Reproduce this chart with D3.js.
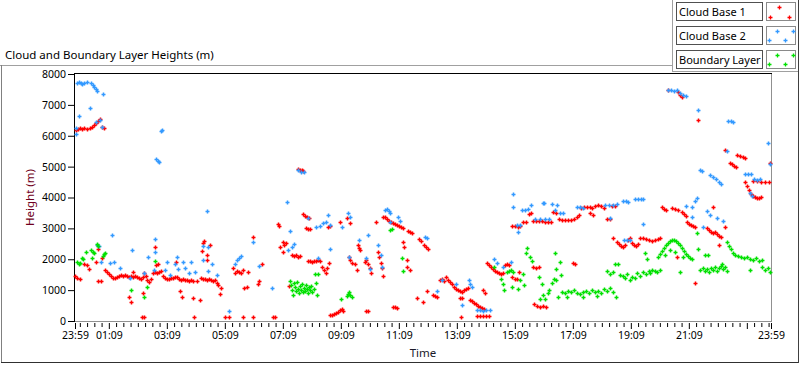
<!DOCTYPE html>
<html>
<head>
<meta charset="utf-8">
<script src="https://cdn.jsdelivr.net/npm/d3@7"></script>
<style>
  body { margin: 0; background: #fff; }
  svg { display: block; font-family: "Noto Sans", sans-serif; }
</style>
</head>
<body>
<svg width="800" height="365"></svg>
<script>
// time is hours after 23:59 of the previous day, height in metres
var cloudBase1 = [
  [0.03,6190],[0.10,6220],[0.17,6250],[0.24,6220],[0.31,6250],[0.41,6220],[0.52,6250],[0.59,6285],[0.66,6350],
  [0.72,6415],[0.79,6480],[0.86,6545],[0.93,6285],[1.0,6250],
  [0,1460],[0.07,1390],[0.17,1360],[0.31,1850],[0.41,1815],[0.48,1685],[0.72,1910],[0.79,1300],[0.90,1300],
  [0.93,2040],[0.79,2330],
  [1.03,1650],[1.10,1590],[1.17,1520],[1.24,1460],[1.31,1390],[1.38,1390],[1.45,1425],[1.52,1460],[1.59,1490],
  [1.66,1460],[1.72,1490],[1.79,1460],[1.86,1425],[1.93,1460],[2.0,1425],[2.07,1460],[2.14,1425],[2.21,1390],
  [2.28,1360],[2.34,1425],[2.38,1555],[2.45,1460],[2.48,1330],[2.55,1265],[2.62,1360],[2.69,1555],[2.76,1590],
  [2.83,1555],[2.90,1590],[2.97,1620],[3.03,1460],[3.10,1390],[3.17,1360],[3.24,1360],[3.31,1390],[3.38,1390],
  [3.45,1425],[3.52,1425],[3.59,1360],[3.66,1330],[3.72,1360],[3.79,1330],[3.86,1330],[3.93,1300],[4.0,1330],
  [4.07,1300],[4.21,1300],[4.34,1390],[4.41,1360],[4.48,1360],[4.55,1330],[4.62,1360],[4.69,1330],[4.76,1300],
  [4.83,1330],[4.90,1230],[4.93,1165],
  [1.86,780],[1.93,615],[2.0,1590],[2.31,130],[2.38,130],[2.34,905],[2.76,2400],[2.79,1815],[2.86,1850],
  [3.48,1910],[3.62,970],[3.69,780],[4.07,745],[4.10,130],[4.31,680],[4.38,2270],[4.41,2530],[4.45,2590],
  [4.55,2140],[4.55,1975],[4.66,2460],[5.0,875],[5.03,1070],[5.17,130],[5.31,130],[5.45,1715],[5.52,1555],
  [5.59,1620],[5.66,1590],[5.72,1555],[5.79,1650],[5.79,130],[5.83,1070],[5.93,1100],[5.97,1590],[6.14,2720],
  [6.14,130],[6.31,1200],[6.34,1300],[6.45,1850],[6.83,130],[6.90,130],[7.07,2400],[7.0,3140],[7.03,3080],
  [7.17,2560],[7.21,2460],[7.28,2530],[7.17,2235],[7.38,1135],[7.48,2140],[7.55,2105],[7.62,2140],[7.69,2075],
  [7.76,2105],
  [7.69,4925],[7.76,4890],[7.83,4890],[7.86,4860],[7.86,3470],[7.93,3400],[8.0,3370],[8.07,3340],
  [7.97,3010],[8.03,2980],[8.10,2980],
  [8.03,1945],[8.10,1945],[8.17,1910],[8.24,1945],[8.31,1945],[8.38,1975],[8.45,1945],[8.52,1750],[8.59,1650],
  [8.66,1555],[8.69,1715],[8.76,1880],[8.72,3045],[8.79,3080],
  [8.79,195],[8.86,195],[8.93,225],[9.0,260],[9.07,290],[9.14,355],[9.21,390],[9.24,325],
  [9.14,3210],[9.38,3335],[9.48,3175],[9.45,2075],[9.48,1975],[9.55,1880],[9.66,1850],[9.72,1650],[9.76,2460],
  [9.79,2365],[9.83,2300],[10.0,1910],[10.03,1975],[10.03,325],[10.10,325],[10.10,1850],[10.17,1715],[10.21,1555],
  [10.38,3210],[10.45,2235],[10.48,2075],[10.55,1880],[10.59,1715],[10.62,1460],[10.62,3370],
  [10.69,3370],[10.76,3305],[10.83,3240],[10.90,3210],[10.97,3175],[11.03,3145],[11.10,3110],[11.17,3080],
  [11.24,3045],[11.31,3015],
  [10.97,455],[11.03,455],[11.10,420],[11.31,2560],[11.34,2400],[11.45,1975],[11.45,1750],[11.55,1650],
  [11.48,2915],[11.55,2885],[11.62,2850],[11.79,745],[11.86,2655],[11.93,2590],[12.0,615],[12.03,2460],
  [12.10,2400],[12.17,2330],[12.14,970],[12.34,840],[12.41,810],[12.48,780],
  [12.59,1330],[12.66,1360],[12.72,1295],[12.79,1425],[12.86,1330],[12.93,1265],[13.0,1200],[13.07,1100],
  [13.14,1035],[13.21,1005],[13.28,970],[13.34,940],[13.41,1005],[13.48,1035],[13.55,1070],
  [13.28,745],[13.34,745],[13.31,130],
  [13.62,680],[13.69,650],[13.76,585],[13.83,550],[13.90,485],[13.97,455],[14.03,420],[14.10,390],
  [13.86,160],[13.97,160],[14.07,160],[14.17,160],[14.28,160],[14.07,1005],[14.14,905],
  [14.21,1880],[14.28,1815],[14.34,1750],[14.41,1685],[14.48,1620],[14.55,1590],[14.62,1555],[14.69,1520],
  [14.76,1555],[14.83,1815],[14.90,1850],[14.97,1815],[15.07,1425],[15.17,1360],[15.24,1360],[15.31,1590],
  [15.83,550],[15.93,485],[16.03,455],[16.14,485],[16.24,455],[15.79,1750],[15.90,1715],[16.0,1750],
  [15.07,3080],[15.17,3080],[15.28,3045],[15.34,3080],[15.45,3210],[15.55,3210],[15.66,3470],[15.72,3500],
  [15.79,3240],[15.90,3240],[16.0,3240],[16.10,3240],[16.21,3210],[16.31,3210],[16.41,3210],[16.48,3530],
  [16.59,3500],[16.69,3305],[16.79,3270],[16.90,3270],[17.0,3270],[17.10,3270],[17.21,3305],[17.31,3370],
  [17.38,3435],[17.45,3660],[17.55,3695],[17.66,3695],[17.76,3695],[17.83,3660],[17.93,3725],[18.03,3760],
  [18.14,3725],[18.24,3660],[17.76,3500],[17.86,3435],[18.34,3305],[18.45,3305],[18.52,3725],[18.62,3725],
  [17.17,1880],[17.24,1850],
  [18.55,2690],[18.69,2560],[18.76,2495],[18.83,2430],[18.90,2400],[18.97,2460],[19.07,2625],[19.14,2690],
  [19.21,2530],[19.28,2460],[19.34,2430],[19.41,2495],[19.48,2690],[19.59,2690],[19.69,2655],[19.79,2625],
  [19.90,2590],[20.0,2625],[20.10,2655],[20.17,2690],
  [20.24,3695],[20.31,3630],[20.38,3595],[20.59,3660],[20.69,3630],[20.79,3595],[20.93,3530],[21.0,3465],
  [21.07,3400],[21.10,3210],[21.17,3145],[21.24,3110],[21.31,3080],[21.38,3045],[20.76,2075],[21.38,1230],
  [21.79,3015],[21.86,2950],[21.93,2885],[22.0,2850],[22.07,2885],[22.14,2820],[22.21,2755],[22.28,2720],
  [22.0,3695],[22.21,2460],[22.41,3045],
  [20.45,7485],[20.79,7420],[20.86,7320],[20.93,7260],[21.48,6510],[22.41,5540],[22.83,5380],[22.93,5345],
  [23.03,5315],[23.10,5280],[22.59,5120],[22.66,5085],[22.72,5020],[22.79,4990],
  [23.10,4500],[23.17,4375],[23.24,4245],[23.31,4115],[23.38,4050],[23.45,4020],[23.52,3985],[23.59,3985],
  [23.66,4020],[23.38,4535],[23.52,4535],[23.66,4500],[23.79,4500],[23.93,4500],[23.97,5120]
];

var cloudBase2 = [
  [0.07,7710],[0.14,7745],[0.21,7710],[0.24,7680],[0.31,7710],[0.41,7745],[0.55,7710],[0.62,7645],[0.66,7580],
  [0.72,7515],[0.76,7450],[0.97,7355],[0.52,6900],[0.14,6640],[0.72,6450],[0.86,6510],[0.03,6255],[0.03,6060],
  [0.93,6285],
  [2.97,6155],[3.0,6190],[2.79,5250],[2.86,5185],[2.90,5150],
  [4.55,3565],[7.69,4890],[7.79,4830],[7.90,4830],[7.31,3855],[7.41,2915],[8.03,3335],[8.31,3045],[8.45,3080],
  [8.55,3175],[8.66,3210],[8.72,3435],[8.79,3110],
  [0.76,2460],[0.83,2430],[1.28,2785],[0.90,1910],[1.21,1880],[1.34,1910],[1.55,1715],[1.97,2300],[1.90,1395],
  [2.38,1555],[2.52,2075],[2.76,2235],[2.76,2655],[2.72,1650],[3.17,1910],[3.10,1650],[3.28,1490],[3.45,1845],
  [3.52,2075],[3.55,1685],[3.72,1910],[3.79,1715],[3.93,1555],[4.0,1910],[4.14,1590],[4.41,2430],[4.41,1975],
  [4.59,2400],[4.59,1620],[4.72,1845],[4.90,1490],[5.31,325],[5.52,1845],[5.59,1975],[5.66,2040],[5.72,2105],
  [6.14,2560],[6.34,1780],[6.79,1070],[7.34,2300],[7.48,2400],[7.55,2495],[8.38,2040],[8.79,2330],
  [9.21,3045],[9.41,3500],[9.48,3370],[9.45,2075],[9.79,2625],[10.03,2040],[10.10,2785],[10.17,1685],
  [10.45,2460],[10.55,2140],[10.59,1750],[10.69,3595],[10.76,3630],[10.83,3565],[10.86,3500],[10.86,3210],
  [11.14,3370],[11.21,3240],[12.07,2720],[12.14,2690],[12.48,970],[12.66,1330],[13.14,1200],[13.34,520],
  [13.59,1330],[13.62,1200],[13.69,1100],[13.86,355],[13.97,355],[14.07,325],[14.17,355],[14.31,355],
  [14.45,2010],[14.55,1880],[14.76,1750],[15.03,1910],[15.10,4115],[15.10,3695],[15.24,3110],[15.34,3110],
  [15.28,2885],[15.41,3595],[15.52,3595],[15.62,3630],[15.72,3760],[15.86,3305],[16.03,3305],[16.21,3305],
  [16.34,3305],[16.17,3825],
  [16.14,3825],[16.45,3790],[16.62,3760],[16.55,3595],[16.72,3500],[16.83,3500],[17.31,3695],[17.41,3695],
  [17.52,3660],[18.28,3760],[18.41,3760],[18.55,3760],[18.69,3790],[18.45,3335],[18.90,3890],[19.0,3890],
  [19.07,3855],[19.31,3950],[19.41,3950],[19.52,3950],[19.59,3950],[19.59,3145],[18.93,2625],[19.03,2625],
  [19.14,2625],[21.07,3725],[21.28,3695],[21.28,3370],[21.38,3890],[21.45,3985],[21.79,3565],[21.90,3435],
  [22.14,3335],[22.34,3240],[21.66,3045],
  [20.45,7485],[20.55,7485],[20.66,7450],[20.76,7485],[20.86,7385],[20.97,7320],[21.07,7290],[21.48,6835],
  [22.52,6480],[22.62,6480],[22.69,6450],[23.90,5770],[21.55,4890],[21.62,4860],[21.90,4730],[22.0,4665],
  [22.10,4600],[22.21,4500],[22.28,4440],[22.48,5510],[23.10,4760],[23.21,4760],[23.31,4760],[23.41,4600],
  [23.52,4570],[23.62,4600],[23.28,4145],[23.34,4050],[23.97,5085]
];

var boundaryLayer = [
  [0.07,1910],[0.14,1845],[0.17,1880],[0.24,2040],[0.28,2010],[0.38,2235],[0.55,2300],[0.59,2040],[0.62,2235],
  [0.66,2200],[0.76,2495],[0.79,2430],[0.97,2105],[1.0,2170],[1.03,2200],[1.93,1005],[2.38,780],[2.48,1100],
  [2.76,1945],
  [7.41,1295],[7.45,1165],[7.48,1005],[7.52,840],[7.55,1230],[7.59,1100],[7.62,970],[7.66,1265],[7.69,1035],
  [7.72,905],[7.76,1135],[7.79,1005],[7.83,1200],[7.86,940],[7.90,1070],[7.93,970],[7.97,1165],[8.0,1035],
  [8.03,905],[8.07,1100],[8.10,1005],[8.14,1135],[8.17,940],[8.24,1035],[8.28,1520],[8.31,1230],[8.34,840],
  [8.38,1520],
  [9.17,715],[9.38,810],[9.41,875],[9.45,940],[9.48,840],[9.55,780],[10.86,2950],[10.93,2980],[11.28,2040],
  [11.31,1620],
  [14.45,1750],[14.69,1360],[14.76,1200],[14.79,1005],[14.90,1590],[14.97,1620],[15.03,1650],[15.10,1590],
  [15.07,1100],[15.28,1035],[15.34,1330],[15.45,1520],[15.48,1165],[15.55,2200],[15.59,2365],[15.69,2075],
  [15.76,1945],[16.0,1425],[16.10,1200],[16.21,715],[16.31,905],
  [16.03,715],[16.14,840],[16.34,1005],[16.45,1230],[16.52,1360],[16.59,1330],[16.55,2200],[16.72,1910],
  [16.59,1685],[16.76,1490],[16.66,780],[16.79,940],[16.90,905],[17.0,970],[17.10,940],[17.21,1005],
  [17.31,905],[17.41,875],[17.52,940],[17.62,970],[17.72,905],[17.83,1005],[17.93,940],[18.03,970],
  [18.14,905],[18.24,1035],[18.34,970],[18.45,1070],[18.55,940],[18.66,780],[16.97,780],[17.52,780],[18.0,810],
  [18.34,1620],[18.45,1520],[18.55,1590],[18.62,1845],[18.72,1845],[18.79,1490],[18.90,1460],[18.97,1390],
  [19.03,1520],[19.14,1330],[19.21,1425],[19.31,1390],[19.38,1555],[19.48,1460],[19.59,1590],[19.66,2200],
  [19.69,1520],[19.79,1620],[19.83,1555],[19.90,1650],[20.0,1620],[20.07,1590],[20.17,1650],[19.72,2010],
  [20.10,2075],[20.17,2170],[20.24,2270],[20.31,2365],[20.38,2460],[20.45,2530],[20.52,2590],[20.59,2625],
  [20.66,2625],[20.72,2590],[20.79,2530],[20.86,2460],[20.93,2365],[21.0,2270],[21.07,2170],[21.14,2105],
  [21.21,2040],[21.28,2010],[20.86,1590],[21.45,2850],[21.48,2330],[20.34,2140],[20.52,2300],[20.69,2235],
  [20.97,2075],
  [21.55,1650],[21.66,1715],[21.72,1620],[21.79,1685],[21.86,1590],[21.93,1715],[22.0,1650],[22.07,1750],
  [22.14,1620],[22.21,1715],[22.28,1780],[22.34,1685],[22.41,1750],[22.48,1620],[21.72,2140],[21.83,2140],
  [22.31,1845],
  [22.48,2560],[22.55,2430],[22.62,2330],[22.69,2200],[22.76,2140],[22.86,2105],[22.97,2075],[23.07,2040],
  [23.17,2075],[23.28,2010],[23.38,1975],[23.48,2040],[23.59,1945],[23.69,1975],[23.28,1650],[23.69,1750],
  [23.79,1650],[23.90,1715],[23.97,1590]
];

var seriesNames = ["Cloud Base 1", "Cloud Base 2", "Boundary Layer"];
var seriesColors = ["#ff0000", "#3399ff", "#00e000"];

var yTicks = [0, 1000, 2000, 3000, 4000, 5000, 6000, 7000, 8000];
// major time ticks in minutes after 23:59
var xMajorMinutes = [0, 70, 190, 310, 430, 550, 670, 790, 910, 1030, 1150, 1270, 1390, 1440];
var xMajorLabels = ["23:59", "01:09", "03:09", "05:09", "07:09", "09:09", "11:09", "13:09",
                    "15:09", "17:09", "19:09", "21:09", "", "23:59"];

var svg = d3.select('svg');

var plot = {l: 75, r: 771, t: 74, b: 321};

var x = d3.scaleLinear().domain([0, 24]).range([plot.l, plot.r]);
var y = d3.scaleLinear().domain([0, 8000]).range([plot.b, plot.t]);

// outer frame of the graph pane
svg.append('line').attr('x1', 0).attr('x2', 672).attr('y1', 65.5).attr('y2', 65.5).attr('stroke', '#a0a0a0');
svg.append('line').attr('x1', 1.5).attr('x2', 1.5).attr('y1', 65).attr('y2', 363).attr('stroke', '#808080');
svg.append('line').attr('x1', 1).attr('x2', 799).attr('y1', 362.5).attr('y2', 362.5).attr('stroke', '#303030');
svg.append('line').attr('x1', 798.5).attr('x2', 798.5).attr('y1', 0).attr('y2', 363).attr('stroke', '#404040');
svg.append('line').attr('x1', 672.5).attr('x2', 672.5).attr('y1', 0).attr('y2', 72).attr('stroke', '#a0a0a0');
svg.append('line').attr('x1', 672).attr('x2', 798).attr('y1', 71.5).attr('y2', 71.5).attr('stroke', '#a0a0a0');

// title
svg.append('text')
    .attr('x', 5).attr('y', 59)
    .style('font-size', '11.5px')
    .attr('fill', '#000')
    .text('Cloud and Boundary Layer Heights (m)');

// plot box
svg.append('line').attr('x1', plot.l - 0.5).attr('x2', plot.r + 1).attr('y1', plot.t - 0.5).attr('y2', plot.t - 0.5).attr('stroke', '#000');
svg.append('line').attr('x1', plot.l - 0.5).attr('x2', plot.l - 0.5).attr('y1', plot.t - 1).attr('y2', plot.b + 1).attr('stroke', '#000');
svg.append('line').attr('x1', plot.r + 0.5).attr('x2', plot.r + 0.5).attr('y1', plot.t).attr('y2', plot.b + 1).attr('stroke', '#909090');
svg.append('line').attr('x1', plot.l).attr('x2', plot.r + 1).attr('y1', plot.b + 0.5).attr('y2', plot.b + 0.5).attr('stroke', '#909090');

// y axis
var yAxisG = svg.append('g')
    .attr('transform', 'translate(' + (plot.l - 1) + ',0)')
    .call(d3.axisLeft(y).tickValues(yTicks).tickSize(6).tickPadding(2).tickFormat(d3.format('d')));
yAxisG.select('.domain').remove();
yAxisG.selectAll('text').style('font-size', '10.5px').style('font-family', '"Noto Sans", sans-serif').attr('fill', '#000');
yAxisG.selectAll('line').attr('stroke', '#000');

// x axis: minor ticks every 15 minutes, major ticks every 2 hours
var minorMinutes = d3.range(10, 1440, 15).filter(function(m) { return xMajorMinutes.indexOf(m) < 0; });
var xMinorG = svg.append('g')
    .attr('transform', 'translate(0,' + (plot.b + 2) + ')')
    .call(d3.axisBottom(x).tickValues(minorMinutes.map(function(m) { return m / 60; })).tickSize(4).tickFormat(''));
xMinorG.select('.domain').remove();
xMinorG.selectAll('line').attr('stroke', '#000');

var xAxisG = svg.append('g')
    .attr('transform', 'translate(0,' + (plot.b + 2) + ')')
    .call(d3.axisBottom(x)
        .tickValues(xMajorMinutes.map(function(m) { return m / 60; }))
        .tickSize(6).tickPadding(3)
        .tickFormat(function(d, i) { return xMajorLabels[i]; }));
xAxisG.select('.domain').remove();
xAxisG.selectAll('text').style('font-size', '10.5px').style('font-family', '"Noto Sans", sans-serif').attr('fill', '#000');
xAxisG.selectAll('line').attr('stroke', '#000');

// axis titles
svg.append('text')
    .attr('x', (plot.l + plot.r) / 2).attr('y', 357)
    .attr('text-anchor', 'middle')
    .style('font-size', '11.5px')
    .attr('fill', '#1a1a2a')
    .text('Time');

svg.append('text')
    .attr('transform', 'translate(34,' + ((plot.t + plot.b) / 2) + ') rotate(-90)')
    .attr('text-anchor', 'middle')
    .style('font-size', '11.5px')
    .attr('fill', '#700020')
    .text('Height (m)');

// point markers (plus signs)
var plusPath = 'M-2,0H2M0,-2V2';
var allSeries = [cloudBase1, cloudBase2, boundaryLayer];

allSeries.forEach(function(series, i) {
    svg.append('g')
        .selectAll('path')
        .data(series)
        .enter()
        .append('path')
        .attr('d', plusPath)
        .attr('transform', function(d) {
            return 'translate(' + [Math.round(x(d[0])) + 0.5, Math.round(y(d[1])) + 0.5] + ')';
        })
        .attr('stroke', seriesColors[i])
        .attr('stroke-width', 1.5)
        .attr('fill', 'none');
});

// legend
var legendSamples = [
    [[12, 5], [3, 15], [22, 15]],
    [[10, 5], [26, 5], [2, 14], [18, 14]],
    [[10, 5], [26, 5], [2, 14], [18, 14]]
];
var legendG = svg.append('g');
seriesNames.forEach(function(name, i) {
    var top = 2 + i * 24;
    legendG.append('rect')
        .attr('x', 676.5).attr('y', top + 0.5)
        .attr('width', 86).attr('height', 18)
        .attr('fill', '#fff').attr('stroke', '#505050');
    legendG.append('text')
        .attr('x', 679).attr('y', top + 13.5)
        .style('font-size', '11px')
        .attr('fill', '#000')
        .text(name);
    legendG.append('rect')
        .attr('x', 766.5).attr('y', top + 0.5)
        .attr('width', 29).attr('height', 18)
        .attr('fill', '#fff').attr('stroke', '#8a8a8a');
    legendSamples[i].forEach(function(p) {
        legendG.append('path')
            .attr('d', plusPath)
            .attr('transform', 'translate(' + [767.5 + p[0], top + 0.5 + p[1]] + ')')
            .attr('stroke', seriesColors[i])
            .attr('stroke-width', 1.3)
            .attr('fill', 'none');
    });
});
</script>
</body>
</html>
